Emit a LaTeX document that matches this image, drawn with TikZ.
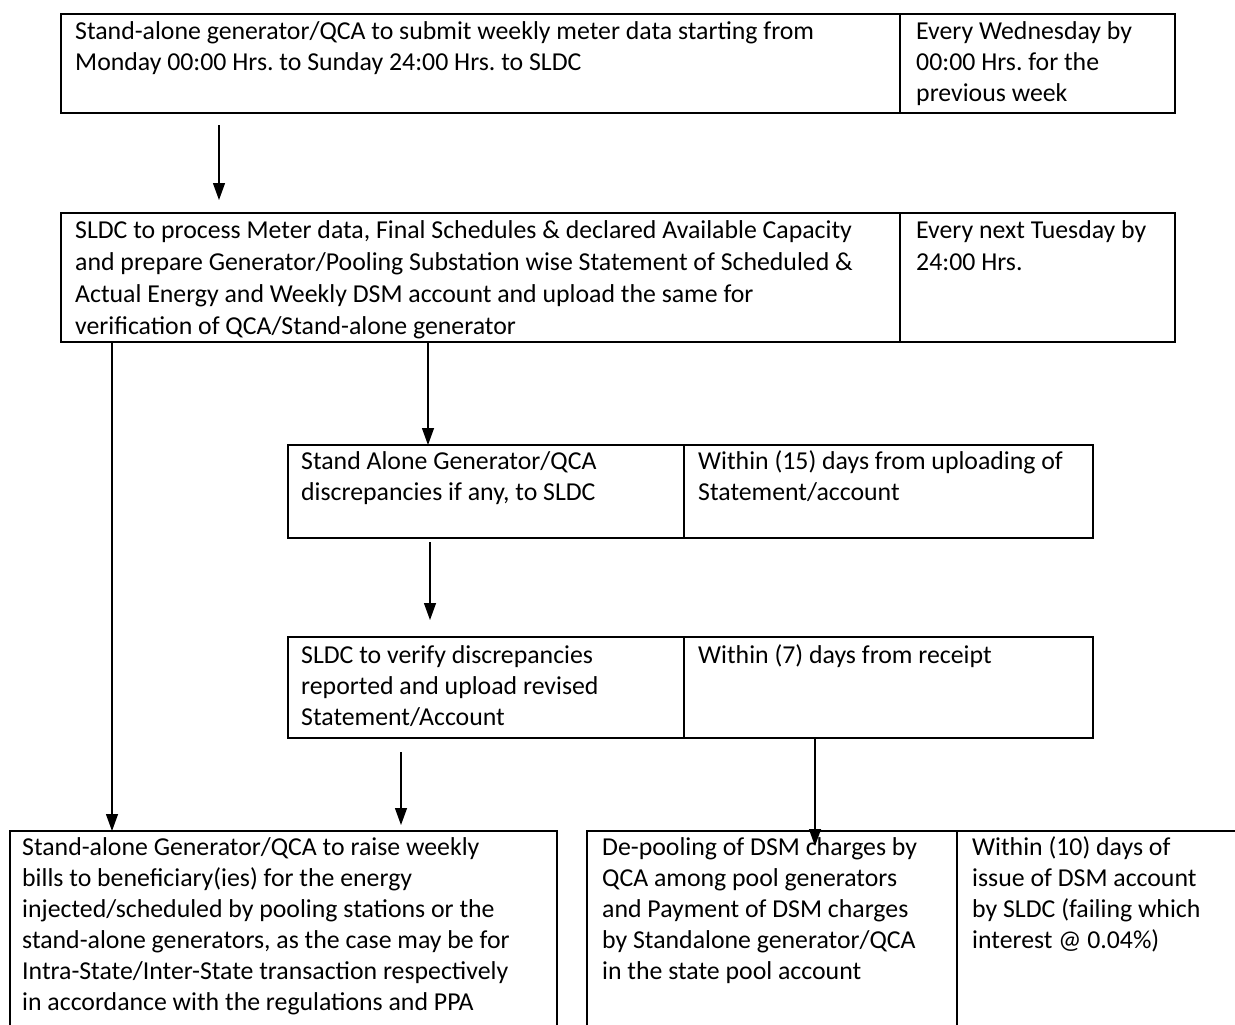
\documentclass[tikz,border=0pt]{standalone}
\usepackage{fontspec}
\setmainfont{Carlito}
\usetikzlibrary{arrows.meta}
\newcommand{\celltext}[2]{\parbox[t]{#1}{#2}}
\begin{document}
\frenchspacing
\begin{tikzpicture}[x=1pt,y=-1pt,
  cell/.style={draw, line width=1.5pt, inner sep=0pt, outer sep=0pt, anchor=north west},
  txtA/.style={anchor=base west, inner sep=0pt, font=\fontsize{25.8}{31}\selectfont},
  txtC/.style={anchor=base west, inner sep=0pt, font=\fontsize{25.8}{32}\selectfont},
  txtB/.style={anchor=base west, inner sep=0pt, font=\fontsize{25.8}{31}\selectfont},
  arr/.style={line width=1.3pt, -{Triangle[length=17pt,width=12pt]}}]
\useasboundingbox (0,0) rectangle (1235,1025);
\clip (0,0) rectangle (1235,1025);
% box 1
\node[cell, minimum width=839pt, minimum height=99pt] (b1l) at (61,14) {};
\node[cell, minimum width=275pt, minimum height=99pt] (b1r) at (900,14) {};
\node[txtA] (t1l) at ([xshift=14pt,yshift=-26pt]b1l.north west)
  {\celltext{820pt}{Stand-alone generator/QCA to submit weekly meter data starting from\\Monday 00:00 Hrs. to Sunday 24:00 Hrs. to SLDC}};
\node[txtA] (t1r) at ([xshift=16pt,yshift=-26pt]b1r.north west)
  {\celltext{260pt}{Every Wednesday by\\00:00 Hrs. for the\\previous week}};
% box 2
\node[cell, minimum width=839pt, minimum height=129pt] (b2l) at (61,213) {};
\node[cell, minimum width=275pt, minimum height=129pt] (b2r) at (900,213) {};
\node[txtC] (t2l) at ([xshift=14pt,yshift=-25pt]b2l.north west)
  {\celltext{820pt}{SLDC to process Meter data, Final Schedules \& declared Available Capacity\\and prepare Generator/Pooling Substation wise Statement of Scheduled \&\\Actual Energy and Weekly DSM account and upload the same for\\verification of QCA/Stand-alone generator}};
\node[txtC] (t2r) at ([xshift=16pt,yshift=-25pt]b2r.north west)
  {\celltext{260pt}{Every next Tuesday by\\24:00 Hrs.}};
% box 3
\node[cell, minimum width=396pt, minimum height=93pt] (b3l) at (288,445) {};
\node[cell, minimum width=409pt, minimum height=93pt] (b3r) at (684,445) {};
\node[txtB] (t3l) at ([xshift=13pt,yshift=-24pt]b3l.north west)
  {\celltext{380pt}{Stand Alone Generator/QCA\\discrepancies if any, to SLDC}};
\node[txtB] (t3r) at ([xshift=14pt,yshift=-24pt]b3r.north west)
  {\celltext{400pt}{Within (15) days from uploading of\\Statement/account}};
% box 4
\node[cell, minimum width=396pt, minimum height=101pt] (b4l) at (288,637) {};
\node[cell, minimum width=409pt, minimum height=101pt] (b4r) at (684,637) {};
\node[txtB] (t4l) at ([xshift=13pt,yshift=-26pt]b4l.north west)
  {\celltext{380pt}{SLDC to verify discrepancies\\reported and upload revised\\Statement/Account}};
\node[txtB] (t4r) at ([xshift=14pt,yshift=-26pt]b4r.north west)
  {\celltext{400pt}{Within (7) days from receipt}};
% box 5
\node[cell, minimum width=547pt, minimum height=250pt] (b5) at (10,831) {};
\node[txtB] (t5) at ([xshift=12pt,yshift=-24pt]b5.north west)
  {\celltext{540pt}{Stand-alone Generator/QCA to raise weekly\\bills to beneficiary(ies) for the energy\\injected/scheduled by pooling stations or the\\stand-alone generators, as the case may be for\\Intra-State/Inter-State transaction respectively\\in accordance with the regulations and PPA}};
% box 6
\node[cell, minimum width=370pt, minimum height=250pt] (b6l) at (587,831) {};
\node[cell, minimum width=320pt, minimum height=250pt] (b6r) at (957,831) {};
\node[txtB] (t6l) at ([xshift=15pt,yshift=-24pt]b6l.north west)
  {\celltext{360pt}{De-pooling of DSM charges by\\QCA among pool generators\\and Payment of DSM charges\\by Standalone generator/QCA\\in the state pool account}};
\node[txtB] (t6r) at ([xshift=15pt,yshift=-24pt]b6r.north west)
  {\celltext{300pt}{Within (10) days of\\issue of DSM account\\by SLDC (failing which\\interest @ 0.04\%)}};
% connectors
\draw[arr, shorten <=12pt, shorten >=13pt] ([xshift=158pt]b1l.south west) -- ([xshift=158pt]b2l.north west);
\draw[arr, shorten <=1pt] ([xshift=51pt]b2l.south west) -- ([xshift=102pt]b5.north west);
\draw[arr, shorten <=1pt] ([xshift=367pt]b2l.south west) -- ([xshift=140pt]b3l.north west);
\draw[arr, shorten <=4pt, shorten >=17pt] ([xshift=142pt]b3l.south west) -- ([xshift=142pt]b4l.north west);
\draw[arr, shorten <=14pt, shorten >=6pt] ([xshift=113pt]b4l.south west) -- ([xshift=391pt]b5.north west);
\draw[arr, shorten >=-15pt] ([xshift=131pt]b4r.south west) -- ([xshift=228pt]b6l.north west);
\end{tikzpicture}
\end{document}
